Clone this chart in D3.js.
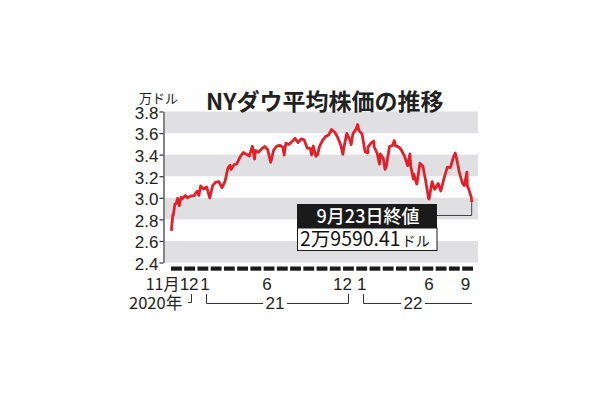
<!DOCTYPE html>
<html><head><meta charset="utf-8">
<script src="https://cdn.jsdelivr.net/npm/d3@7"></script>
<style>
html,body{margin:0;padding:0;background:#fff;}
svg{display:block;}
</style></head>
<body>
<svg id="c" width="610" height="400"></svg>
<script>
// ---- data (万ドル) ----
const dates = [
"2020-11-02","2020-11-03","2020-11-04","2020-11-05","2020-11-06","2020-11-09","2020-11-10","2020-11-13","2020-11-16","2020-11-20","2020-11-24","2020-11-27",
"2020-12-04","2020-12-09","2020-12-11","2020-12-18","2020-12-24","2020-12-31",
"2021-01-04","2021-01-08","2021-01-15","2021-01-22","2021-01-27","2021-01-29","2021-02-05","2021-02-12","2021-02-19","2021-02-26",
"2021-03-05","2021-03-12","2021-03-17","2021-03-19","2021-03-26","2021-04-01","2021-04-09","2021-04-16","2021-04-23","2021-04-30",
"2021-05-07","2021-05-12","2021-05-14","2021-05-21","2021-05-28","2021-06-04","2021-06-11","2021-06-18","2021-06-25",
"2021-07-02","2021-07-09","2021-07-16","2021-07-19","2021-07-23","2021-07-30","2021-08-06","2021-08-13","2021-08-20","2021-08-27",
"2021-09-03","2021-09-10","2021-09-17","2021-09-20","2021-09-24","2021-09-30","2021-10-04","2021-10-08","2021-10-15","2021-10-22","2021-10-29",
"2021-11-05","2021-11-12","2021-11-19","2021-11-26","2021-12-01","2021-12-03","2021-12-10","2021-12-17","2021-12-20","2021-12-24","2021-12-31",
"2022-01-04","2022-01-07","2022-01-14","2022-01-21","2022-01-27","2022-01-28","2022-02-04","2022-02-10","2022-02-11","2022-02-18","2022-02-23","2022-02-25",
"2022-03-04","2022-03-08","2022-03-11","2022-03-18","2022-03-25","2022-03-29","2022-04-01","2022-04-08","2022-04-14","2022-04-22","2022-04-29",
"2022-05-04","2022-05-06","2022-05-12","2022-05-13","2022-05-18","2022-05-20","2022-05-27","2022-06-03","2022-06-10","2022-06-16","2022-06-17","2022-06-24","2022-06-30",
"2022-07-08","2022-07-14","2022-07-22","2022-07-29","2022-08-05","2022-08-12","2022-08-16","2022-08-19","2022-08-26",
"2022-09-02","2022-09-06","2022-09-12","2022-09-13","2022-09-16","2022-09-21","2022-09-22","2022-09-23"
];
const values = [
2.6925,2.7480,2.7847,2.8390,2.8323,2.9158,2.9421,2.9480,2.9950,2.9263,3.0046,2.9910,
3.0218,2.9990,3.0046,3.0179,3.0200,3.0606,
3.0223,3.1098,3.0814,3.0997,3.0303,2.9983,3.1148,3.1458,3.1494,3.0932,
3.1496,3.2779,3.3015,3.2628,3.3072,3.3153,3.3800,3.4200,3.4043,3.3875,
3.4778,3.3587,3.4382,3.4208,3.4529,3.4756,3.4480,3.3290,3.4433,
3.4786,3.4870,3.4687,3.3962,3.5061,3.4935,3.5208,3.5515,3.5120,3.5455,
3.5369,3.4607,3.4584,3.3970,3.4798,3.3844,3.4002,3.4746,3.5295,3.5677,3.5820,
3.6328,3.6100,3.5601,3.4899,3.4022,3.4580,3.5971,3.5365,3.4932,3.5950,3.6338,
3.6799,3.6231,3.5911,3.4265,3.4160,3.4725,3.5089,3.5241,3.4738,3.4079,3.3131,3.4058,
3.3614,3.2632,3.2944,3.4754,3.4861,3.5294,3.4818,3.4721,3.4451,3.3811,3.2977,
3.4061,3.2899,3.1730,3.2196,3.1490,3.1262,3.3213,3.2899,3.1393,2.9927,2.9889,3.1500,3.0775,
3.1338,3.0630,3.1899,3.2845,3.2803,3.3761,3.4152,3.3706,3.2283,
3.1318,3.1145,3.2381,3.1105,3.0822,3.0184,3.0077,2.9590
];
const yTicks = [2.4,2.6,2.8,3.0,3.2,3.4,3.6,3.8];
const bands = [[3.6,3.8],[3.2,3.4],[2.8,3.0],[2.4,2.6]];
const months = ["2020-11","2020-12","2021-01","2021-02","2021-03","2021-04","2021-05","2021-06","2021-07","2021-08","2021-09","2021-10","2021-11","2021-12",
"2022-01","2022-02","2022-03","2022-04","2022-05","2022-06","2022-07","2022-08","2022-09"];
const monthLabels = [
 {m:"2020-11", t:"11月", anchor:"end", dx:3},
 {m:"2020-12", t:"12", anchor:"start", dx:-10},
 {m:"2021-01", t:"1", anchor:"middle", dx:2},
 {m:"2021-06", t:"6", anchor:"middle", dx:-2},
 {m:"2021-12", t:"12", anchor:"middle", dx:-6},
 {m:"2022-01", t:"1", anchor:"middle", dx:0},
 {m:"2022-06", t:"6", anchor:"middle", dx:1},
 {m:"2022-09", t:"9", anchor:"middle", dx:-2}
];
const yearLabels = ["2020年","21","22"];
const unitLabel = "万ドル";
const title = "NYダウ平均株価の推移";
const boxTitle = "9月23日終値";
const boxValue = "2万9590.41";
const boxUnit = "ドル";

// ---- drawing ----
const parse = d3.timeParse("%Y-%m-%d");
const data = dates.map((d,i)=>({date:parse(d), v:values[i]}));
const svg = d3.select("#c");
const red = "#e3202a";
const gray = "#e0e0e2";
const font = "'Liberation Sans', Arial, sans-serif";
const jfont = "'Noto Sans CJK JP', sans-serif";

const x = d3.scaleTime().domain([new Date(2020,10,1), new Date(2022,8,26)]).range([171,473]);
const y = d3.scaleLinear().domain([2.4,3.8]).range([262.5,111.5]);
const plotL = 165, plotR = 478;

// bands
svg.append("g").selectAll("rect").data(bands).join("rect")
  .attr("x", plotL).attr("width", plotR-plotL)
  .attr("y", d=>y(d[1])).attr("height", d=>y(d[0])-y(d[1]))
  .attr("fill", gray);

// y axis
const yAxis = d3.axisLeft(y).tickValues(yTicks).tickFormat(d3.format(".1f")).tickSizeInner(4).tickSizeOuter(0).tickPadding(1);
const ga = svg.append("g").attr("transform","translate(163.5,0)").call(yAxis);
ga.select(".domain").attr("stroke","#333").attr("stroke-width",1.2);
ga.selectAll(".tick line").attr("stroke","#333").attr("stroke-width",1.2);
ga.selectAll(".tick text").attr("font-family",font).attr("font-size",17).attr("fill","#222").attr("dy","0.4em");

// unit and title
svg.append("text").attr("x",139).attr("y",103).attr("font-family",jfont).attr("font-size",13).attr("fill","#222").text(unitLabel);
svg.append("text").attr("x",206).attr("y",110).attr("font-family",jfont).attr("font-weight",700).attr("font-size",23).attr("fill","#222").text(title);

// leader line
const last = data[data.length-1];
svg.append("path")
  .attr("d", `M${x(last.date)},${y(last.v)} V215.5 H437`)
  .attr("fill","none").attr("stroke","#444").attr("stroke-width",1);

// line
svg.append("path").datum(data)
  .attr("d", d3.line().x(d=>x(d.date)).y(d=>y(d.v)).curve(d3.curveLinear))
  .attr("fill","none").attr("stroke",red).attr("stroke-width",2.8).attr("stroke-linejoin","round");

// box
svg.append("rect").attr("x",297).attr("y",204).attr("width",140).attr("height",24).attr("fill","#1a1a1a");
svg.append("rect").attr("x",297.5).attr("y",228).attr("width",139.5).attr("height",22.5).attr("fill","#fff").attr("stroke","#1a1a1a").attr("stroke-width",1);
svg.append("text").attr("x",368).attr("y",223).attr("text-anchor","middle").attr("font-family",jfont).attr("font-weight",500).attr("font-size",18).attr("fill","#fff").text(boxTitle);
const bt = svg.append("text").attr("x",300).attr("y",246).attr("font-family",jfont).attr("fill","#111");
bt.append("tspan").attr("font-size",19.5).text(boxValue);
bt.append("tspan").attr("font-size",14).attr("dx",1).text(boxUnit);

// month dashes
const band = d3.scaleBand().domain(months).range([171,473]).paddingInner(0.18);
svg.append("g").selectAll("rect").data(months).join("rect")
  .attr("x", d=>band(d)).attr("width", band.bandwidth())
  .attr("y", 266.5).attr("height", 4.2).attr("fill","#1a1a1a");

// month labels
svg.append("g").selectAll("text").data(monthLabels).join("text")
  .attr("x", d=>band(d.m)+band.bandwidth()/2+d.dx)
  .attr("y", 290)
  .attr("text-anchor", d=>d.anchor)
  .attr("font-family", d=>/月/.test(d.t)?jfont:font)
  .attr("font-size", d=>/月/.test(d.t)?16:17).attr("fill","#222")
  .text(d=>d.t);

// year labels and brackets
const yl = svg.append("g").attr("font-size",17).attr("fill","#222");
yl.append("text").attr("x",129).attr("y",309).attr("font-family",jfont).attr("font-size",16.5).text(yearLabels[0]);
yl.append("text").attr("x",275).attr("y",309).attr("text-anchor","middle").attr("font-family",font).text(yearLabels[1]);
yl.append("text").attr("x",413).attr("y",309).attr("text-anchor","middle").attr("font-family",font).text(yearLabels[2]);
const br = svg.append("g").attr("fill","none").attr("stroke","#333").attr("stroke-width",1);
br.append("path").attr("d","M191.5,294 V302.5 H188");
br.append("path").attr("d","M206.5,294 V303.5 H263");
br.append("path").attr("d","M287,303.5 H348.5 V294");
br.append("path").attr("d","M363.5,294 V303.5 H401");
br.append("path").attr("d","M425,303.5 H472");
</script>
</body></html>
